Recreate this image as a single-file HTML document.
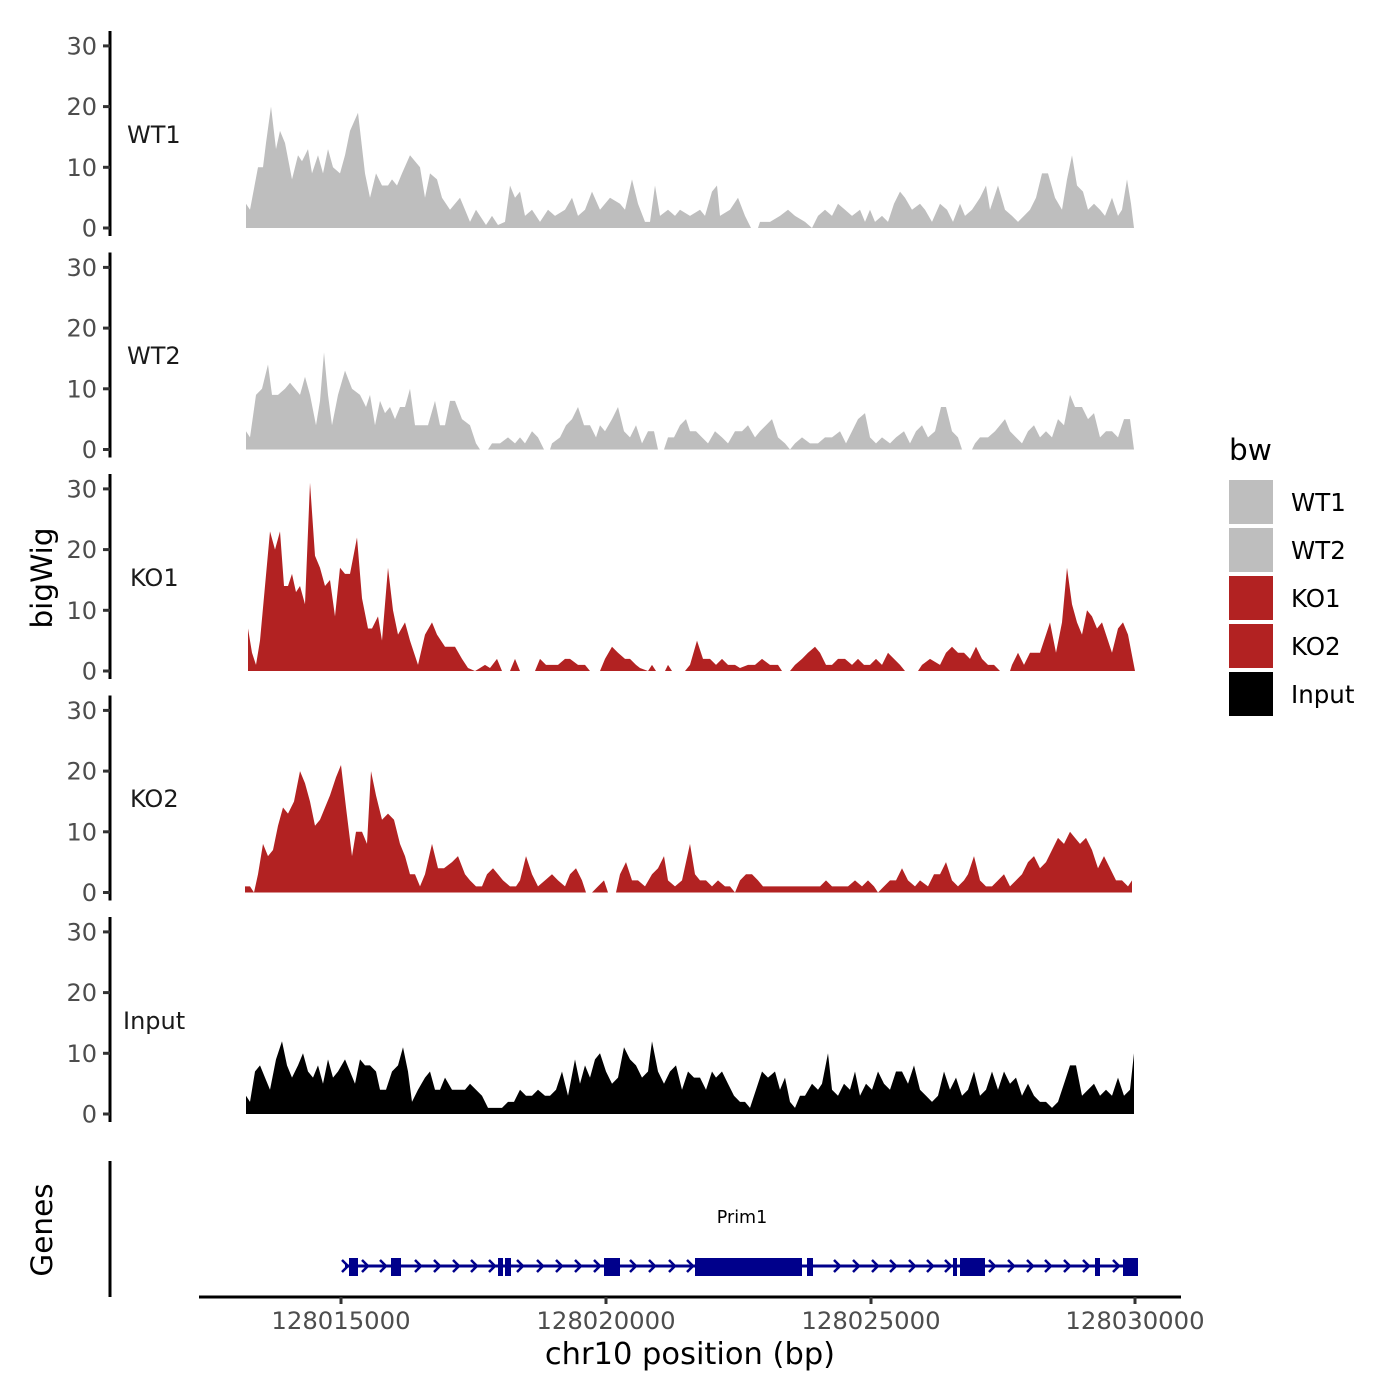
<!DOCTYPE html>
<html><head><meta charset="utf-8"><style>
html,body{margin:0;padding:0;background:#fff}
svg{display:block;font-family:"DejaVu Sans","Liberation Sans",sans-serif}
</style></head><body>
<svg id="s" width="1400" height="1400" viewBox="0 0 1400 1400" xmlns="http://www.w3.org/2000/svg">
<rect width="1400" height="1400" fill="#fff"/>
<g id="tracks"></g>
<g id="axes" stroke="#000" stroke-width="3" fill="none"></g>
<g id="labels" font-size="24" fill="#4d4d4d" text-anchor="end"></g>
<g font-size="24" fill="#1a1a1a">
<text x="127" y="143">WT1</text>
<text x="127" y="364">WT2</text>
<text x="130" y="586">KO1</text>
<text x="130" y="807">KO2</text>
<text x="123" y="1029">Input</text>
</g>
<text transform="translate(52,578) rotate(-90)" font-size="29.5" text-anchor="middle" fill="#000">bigWig</text>
<text transform="translate(52,1230) rotate(-90)" font-size="29.5" text-anchor="middle" fill="#000">Genes</text>
<line x1="110" y1="1161" x2="110" y2="1297" stroke="#000" stroke-width="3"/>
<line x1="199" y1="1297" x2="1181" y2="1297" stroke="#000" stroke-width="3"/>
<g stroke="#333" stroke-width="3">
<line x1="341" y1="1297" x2="341" y2="1304"/><line x1="606" y1="1297" x2="606" y2="1304"/>
<line x1="871" y1="1297" x2="871" y2="1304"/><line x1="1135" y1="1297" x2="1135" y2="1304"/>
</g>
<g font-size="24.3" fill="#4d4d4d" text-anchor="middle">
<text x="341" y="1329">128015000</text><text x="606" y="1329">128020000</text>
<text x="871" y="1329">128025000</text><text x="1135" y="1329">128030000</text>
</g>
<text x="690" y="1364" font-size="30.5" text-anchor="middle" fill="#000">chr10 position (bp)</text>
<text x="742" y="1223" font-size="17.5" text-anchor="middle" fill="#000">Prim1</text>
<g id="gene" fill="#00008b"></g>
<text x="1229" y="460" font-size="29.5" fill="#000">bw</text>
<rect x="1229" y="480" width="44" height="44" fill="#bebebe"/>
<rect x="1229" y="528" width="44" height="44" fill="#bebebe"/>
<rect x="1229" y="576" width="44" height="44" fill="#b22222"/>
<rect x="1229" y="624" width="44" height="44" fill="#b22222"/>
<rect x="1229" y="672" width="44" height="44" fill="#000"/>
<g font-size="24.5" fill="#000">
<text x="1291" y="511">WT1</text><text x="1291" y="559">WT2</text>
<text x="1291" y="607">KO1</text><text x="1291" y="655">KO2</text>
<text x="1291" y="703">Input</text>
</g>
</svg>
<script>
var NS="http://www.w3.org/2000/svg";
function el(t,a,p){var e=document.createElementNS(NS,t);for(var k in a)e.setAttribute(k,a[k]);p.appendChild(e);return e;}
var tracks=document.getElementById('tracks'),axes=document.getElementById('axes'),labels=document.getElementById('labels');
var data=[
[[246,4],[250,3],[258,10],[263,10],[266,14],[271,20],[276,13],[280,16],[285,14],[292,8],[298,12],[302,11],[305,12],[308,13],[312,9],[318,12],[323,9],[328,13],[333,10],[340,9],[345,12],[350,16],[358,19],[365,9],[370,5],[376,9],[382,7],[388,7],[392,8],[397,7],[402,9],[410,12],[415,11],[420,10],[425,5],[430,9],[437,8],[442,5],[450,3],[460,5],[465,3],[470,1],[476,3],[480,2],[486,0.5],[492,2],[498,0.5],[505,1],[510,7],[515,5],[520,6],[525,2],[532,3],[540,1],[548,3],[555,2],[565,3],[572,5],[578,2],[585,3],[592,6],[600,3],[610,5],[620,4],[625,3],[632,8],[638,4],[645,1],[650,1],[655,7],[660,2],[668,3],[675,2],[680,3],[690,2],[700,3],[705,2],[712,6],[717,7],[720,2],[730,3],[738,5],[745,2],[751,0],[758,0],[760,1],[770,1],[780,2],[788,3],[795,2],[805,1],[812,0],[818,2],[825,3],[832,2],[838,4],[845,3],[852,2],[860,3],[865,1],[870,3],[875,1],[882,2],[888,1],[894,4],[900,6],[905,5],[912,3],[920,4],[925,3],[932,1],[940,4],[947,3],[953,1],[960,4],[965,2],[972,3],[980,5],[986,7],[990,3],[998,7],[1005,3],[1012,2],[1018,1],[1024,2],[1030,3],[1036,5],[1042,9],[1048,9],[1055,5],[1062,3],[1067,8],[1072,12],[1077,7],[1083,6],[1088,3],[1094,4],[1100,3],[1105,2],[1112,5],[1118,2],[1122,3],[1127,8],[1131,4],[1134,0]],
[[246,3],[250,2],[256,9],[262,10],[268,14],[272,9],[278,9],[285,10],[290,11],[295,10],[300,9],[305,12],[310,9],[316,4],[320,8],[324,16],[328,9],[332,4],[338,9],[345,13],[352,10],[360,9],[366,7],[370,9],[375,4],[380,8],[385,6],[390,7],[395,5],[400,7],[405,7],[410,10],[415,4],[420,4],[428,4],[435,8],[440,4],[445,4],[450,8],[455,8],[462,5],[470,4],[476,1],[480,0],[488,0],[492,1],[500,1],[508,2],[515,1],[520,2],[525,1],[532,3],[538,2],[544,0],[550,0],[552,1],[560,2],[566,4],[572,5],[578,7],[584,4],[590,4],[596,2],[600,4],[605,3],[612,5],[618,7],[624,3],[630,2],[636,4],[642,1],[648,3],[654,3],[658,0],[664,0],[668,2],[674,2],[680,4],[686,5],[690,3],[696,3],[702,2],[708,1],[715,3],[722,2],[728,1],[735,3],[742,3],[748,4],[755,2],[760,3],[766,4],[772,5],[778,2],[785,1],[790,0],[795,1],[802,2],[810,1],[818,1],[825,2],[832,2],[840,3],[846,1],[852,3],[858,5],[865,6],[870,2],[876,1],[882,2],[890,1],[896,2],[904,3],[910,1],[916,3],[922,4],[928,2],[935,3],[941,7],[946,7],[952,3],[958,2],[962,0],[972,0],[975,1],[980,2],[988,2],[995,3],[1000,4],[1005,5],[1010,3],[1016,2],[1022,1],[1028,3],[1034,4],[1040,2],[1046,3],[1052,2],[1058,5],[1064,4],[1070,9],[1075,7],[1082,7],[1088,5],[1094,6],[1100,2],[1106,3],[1112,3],[1118,2],[1124,5],[1130,5],[1134,0]],
[[248,7],[252,3],[256,1],[260,5],[265,14],[270,23],[275,20],[280,23],[284,14],[288,14],[292,16],[296,13],[300,14],[305,11],[310,31],[315,19],[320,17],[325,14],[330,15],[335,9],[340,17],[345,16],[350,16],[357,22],[362,12],[368,7],[372,7],[378,9],[382,5],[388,17],[393,10],[398,6],[405,8],[410,5],[418,1],[425,6],[432,8],[437,6],[445,4],[455,4],[462,2],[468,0.5],[475,0],[478,0.3],[485,1],[490,0.5],[497,2],[502,0],[510,0],[515,2],[520,0],[535,0],[540,2],[546,1],[552,1],[558,1],[565,2],[570,2],[578,1],[585,1],[590,0],[600,0],[605,2],[612,4],[618,3],[625,2],[630,2],[636,1],[640,0.5],[648,0],[652,1],[656,0],[665,0],[668,1],[672,0],[685,0],[690,1],[697,5],[703,2],[710,2],[716,1],[722,2],[728,1],[735,1],[740,0.5],[748,1],[755,1],[762,2],[770,1],[778,1],[782,0],[790,0],[795,1],[802,2],[808,3],[815,4],[820,3],[826,1],[832,1],[838,2],[845,2],[852,1],[858,2],[864,1],[870,1],[876,2],[882,1],[888,3],[894,2],[900,1],[905,0],[918,0],[922,1],[930,2],[940,1],[946,3],[952,4],[958,3],[964,3],[970,2],[976,4],[982,2],[988,1],[994,1],[1000,0],[1010,0],[1012,1],[1018,3],[1024,1],[1030,3],[1034,3],[1040,3],[1046,6],[1050,8],[1056,3],[1062,8],[1067,17],[1072,11],[1077,8],[1082,6],[1087,10],[1092,9],[1097,7],[1102,8],[1108,5],[1112,3],[1118,7],[1123,8],[1128,6],[1135,0]],
[[245,1],[250,1],[254,0],[258,3],[263,8],[268,6],[273,7],[278,11],[283,14],[288,13],[294,15],[300,20],[305,18],[310,15],[315,11],[320,12],[325,14],[330,16],[336,19],[341,21],[346,14],[352,6],[356,10],[362,10],[367,8],[371,20],[376,16],[382,12],[388,13],[394,12],[400,8],[405,6],[410,3],[415,3],[420,1],[425,3],[432,8],[438,4],[444,4],[452,5],[458,6],[465,3],[470,2],[476,1],[482,1],[487,3],[493,4],[498,3],[503,2],[510,1],[516,1],[520,2],[526,6],[532,3],[538,1],[545,2],[552,3],[558,2],[565,1],[570,3],[576,4],[582,2],[586,0],[592,0],[598,1],[604,2],[608,0],[616,0],[620,3],[626,5],[632,2],[638,2],[645,1],[652,3],[658,4],[664,6],[668,2],[675,1],[682,2],[690,8],[695,3],[700,2],[706,2],[712,1],[718,2],[725,1],[730,1],[735,0],[740,2],[746,3],[752,3],[758,2],[763,1],[768,1],[775,1],[782,1],[790,1],[800,1],[810,1],[820,1],[826,2],[832,1],[840,1],[848,1],[855,2],[862,1],[868,2],[874,1],[878,0],[884,1],[890,2],[896,2],[902,4],[908,2],[915,1],[920,2],[928,1],[934,3],[940,3],[946,5],[952,2],[958,1],[964,2],[968,3],[974,6],[980,2],[986,1],[992,1],[998,2],[1004,3],[1010,1],[1016,2],[1022,3],[1028,5],[1034,6],[1040,4],[1046,5],[1052,7],[1058,9],[1064,8],[1070,10],[1075,9],[1080,8],[1086,9],[1092,7],[1098,4],[1104,6],[1110,4],[1116,2],[1122,2],[1128,1],[1132,2]],
[[246,3],[250,2],[255,7],[260,8],[265,6],[270,4],[276,9],[282,12],[287,8],[292,6],[298,8],[303,10],[308,7],[313,6],[318,8],[323,5],[328,9],[333,6],[338,7],[345,9],[350,7],[355,5],[360,9],[365,8],[370,8],[376,7],[380,4],[386,4],[392,7],[398,8],[403,11],[408,7],[412,2],[418,4],[425,6],[430,7],[435,4],[440,4],[445,6],[452,4],[458,4],[465,4],[470,5],[476,4],[482,3],[488,1],[495,1],[502,1],[508,2],[514,2],[520,4],[526,3],[532,3],[538,4],[545,3],[550,3],[556,4],[562,7],[568,3],[575,9],[580,5],[585,8],[590,6],[595,9],[600,10],[606,7],[612,5],[618,6],[624,11],[630,9],[636,8],[642,6],[648,7],[652,12],[658,7],[664,5],[670,7],[676,8],[682,4],[688,7],[694,6],[700,6],[706,4],[712,7],[716,6],[722,7],[728,5],[734,3],[740,2],[745,2],[750,1],[756,4],[762,7],[768,6],[775,7],[780,4],[785,6],[790,2],[795,1],[800,3],[805,3],[812,5],[818,4],[822,5],[828,10],[832,4],[838,3],[844,5],[850,4],[855,7],[860,3],[866,5],[872,4],[878,7],[884,5],[890,4],[896,7],[902,7],[908,5],[914,8],[920,4],[926,3],[932,2],[938,3],[944,7],[950,4],[956,6],[962,3],[968,4],[974,7],[980,3],[986,4],[992,7],[998,4],[1004,7],[1010,5],[1016,6],[1022,3],[1028,5],[1034,3],[1040,2],[1046,2],[1052,1],[1058,2],[1064,5],[1070,8],[1076,8],[1082,3],[1088,4],[1094,5],[1100,3],[1106,4],[1112,3],[1118,6],[1124,3],[1130,4],[1134,10]]
];
var cols=["#bebebe","#bebebe","#b22222","#b22222","#000"];
var k=6.07;
for(var i=0;i<5;i++){
 var y0=228+221.5*i, pts=data[i];
 var d="M"+pts[0][0]+","+y0;
 pts.forEach(function(p){d+="L"+p[0]+","+(y0-p[1]*k).toFixed(1);});
 d+="L"+pts[pts.length-1][0]+","+y0+"Z";
 el('path',{d:d,fill:cols[i]},tracks);
 el('line',{x1:110,y1:y0-197,x2:110,y2:y0+8},axes);
 for(var t=0;t<=30;t+=10){
  var yy=y0-t*k;
  el('line',{x1:103,y1:yy,x2:110,y2:yy,stroke:"#333"},axes);
  var tx=el('text',{x:97,y:yy+8.5},labels);tx.textContent=t;
 }
}
var g=document.getElementById('gene');
el('rect',{x:345,y:1264.5,width:793,height:3},g);
var ex=[[349,358],[391,401],[498,503],[505,511],[604,620],[695,802],[807,813],[953,957],[960,985],[1095,1100],[1123,1138]];
ex.forEach(function(e){el('rect',{x:e[0],y:1258,width:e[1]-e[0],height:18},g);});
var ax=[345,365,383,418,437,456,474,492,520,540,559,578,597,633,652,672,690,837,856,875,893,912,930,948,992,1011,1030,1048,1067,1086,1116];
ax.forEach(function(x){el('path',{d:"M"+(x-3)+",1260L"+(x+3)+",1266L"+(x-3)+",1272",stroke:"#00008b","stroke-width":2.5,fill:"none"},g);});
</script>
</body></html>
